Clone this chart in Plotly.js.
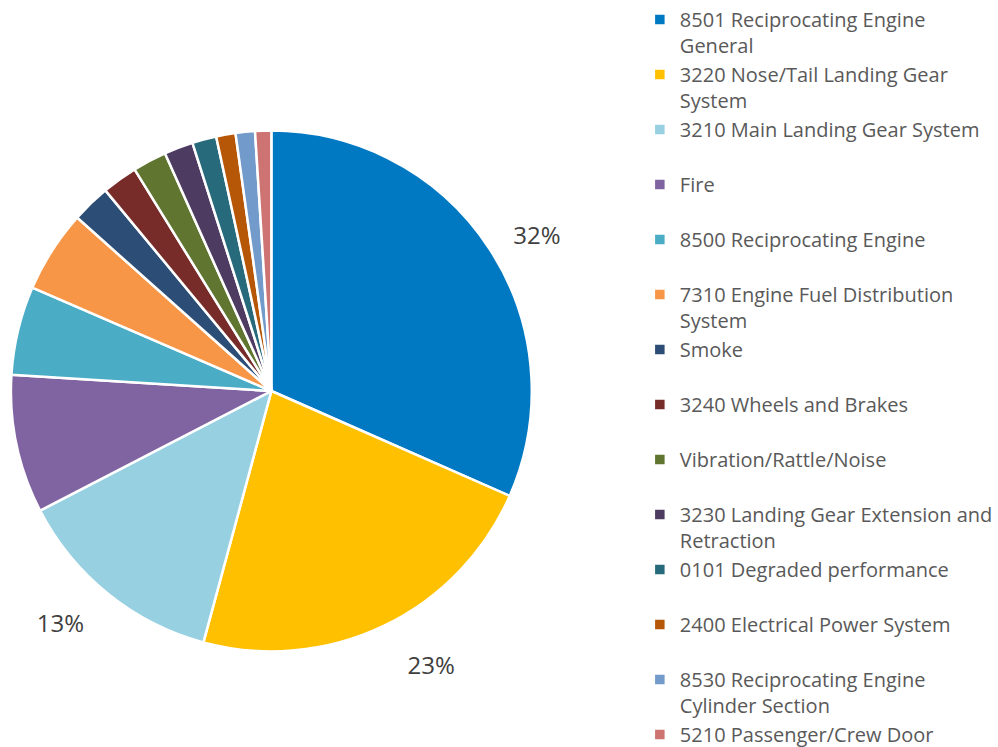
<!DOCTYPE html>
<html>
<head>
<meta charset="utf-8">
<script src="https://cdn.plot.ly/plotly-3.0.1.min.js"></script>
<style>
  html, body { margin: 0; padding: 0; background: #ffffff; }
  #chart { width: 998px; height: 747px; }
</style>
</head>
<body>
<div id="chart"></div>
<script>
// Categories (legend text; "|" marks where the reference wraps the label)
var categories = [
  "8501 Reciprocating Engine|General",
  "3220 Nose/Tail Landing Gear|System",
  "3210 Main Landing Gear System",
  "Fire",
  "8500 Reciprocating Engine",
  "7310 Engine Fuel Distribution|System",
  "Smoke",
  "3240 Wheels and Brakes",
  "Vibration/Rattle/Noise",
  "3230 Landing Gear Extension and|Retraction",
  "0101 Degraded performance",
  "2400 Electrical Power System",
  "8530 Reciprocating Engine|Cylinder Section",
  "5210 Passenger/Crew Door"
];
// Share of each category (percent)
var shares = [31.6, 22.6, 13.2, 8.6, 5.5, 5.1, 2.4, 2.2, 2.1, 1.8, 1.5, 1.2, 1.2, 1.0];
// Which slices carry a visible percentage label in the reference
var showLabel = [true, true, true, false, false, false, false, false, false, false, false, false, false, false];

var colors = ['#0079C2', '#FFC000', '#96D0E1', '#8064A2', '#4BACC6', '#F79646', '#2C4D75',
              '#772C2A', '#5F7530', '#4D3B62', '#276A7C', '#B65708', '#729ACA', '#CD7371'];

var legendLabels = categories.map(function (c) {
  var lines = c.split('|');
  if (lines.length < 2) lines.push('\u00a0');
  return lines.map(function (l) {
    return '<span style="font-size:20px">' + l + '</span>';
  }).join('<br>');
});

// blank line above and below the percentage keeps it a little away from the rim, as in the reference
var pctTemplate = '\u00a0<br>%{percent:.0%}<br>\u00a0';

var trace = {
  type: 'pie',
  labels: legendLabels,
  values: shares,
  sort: false,
  direction: 'clockwise',
  rotation: 0,
  marker: { colors: colors, line: { color: '#ffffff', width: 2.5 } },
  texttemplate: showLabel.map(function (s) { return s ? pctTemplate : ''; }),
  textposition: showLabel.map(function (s) { return s ? 'outside' : 'none'; }),
  outsidetextfont: { family: 'Open Sans, sans-serif', size: 24, color: '#404040' },
  domain: { x: [11 / 998, 535 / 998], y: [1 - 653 / 747, 1 - 129 / 747] },
  hoverinfo: 'label+percent'
};

var layout = {
  width: 998,
  height: 747,
  margin: { l: 0, r: 0, t: 0, b: 0 },
  paper_bgcolor: '#ffffff',
  showlegend: true,
  legend: {
    x: 0.645, xanchor: 'left',
    y: 1.0, yanchor: 'top',
    valign: 'top',
    font: { family: 'Open Sans, sans-serif', size: 20, color: '#595959' },
    bgcolor: 'rgba(0,0,0,0)'
  }
};

Plotly.newPlot('chart', [trace], layout, { displayModeBar: false, staticPlot: true });
</script>
</body>
</html>
